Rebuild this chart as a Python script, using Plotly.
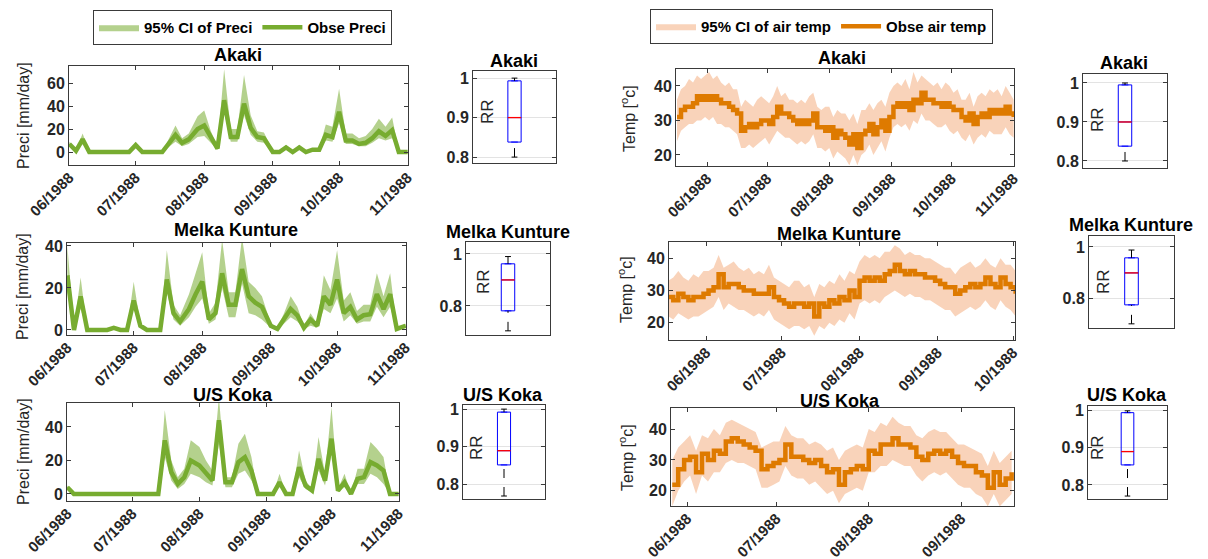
import plotly.graph_objects as go
import pandas as pd

W, H = 1208, 559          # browser window
OFF = 8                   # default page margin around the figure div
FW, FH = W - OFF, H - OFF # figure size so that the figure fills the window
F = "Liberation Sans, Arial, sans-serif"

# ---------------- Precipitation data (mm/day) ----------------
p_akaki_dates = ['1988-06-01','1988-06-04','1988-06-07','1988-06-10','1988-06-28','1988-07-01','1988-07-04',
                 '1988-07-13','1988-07-19','1988-07-22','1988-07-25','1988-07-29','1988-08-01','1988-08-04',
                 '1988-08-07','1988-08-10','1988-08-13','1988-08-16','1988-08-19','1988-08-22','1988-08-25',
                 '1988-08-28','1988-09-01','1988-09-04','1988-09-07','1988-09-10','1988-09-13','1988-09-16',
                 '1988-09-19','1988-09-22','1988-09-25','1988-09-28','1988-10-01','1988-10-04','1988-10-07',
                 '1988-10-10','1988-10-13','1988-10-16','1988-10-19','1988-10-22','1988-10-25','1988-10-28',
                 '1988-11-01']
p_akaki = [7,1,11,0,0,6,0,0,15,8,11,20,23,12,3,45,13,13,42,21,13,12,0,0,4,0,4,0,2,2,15,13,35,10,10,7,8,12,18,14,19,0,0]
p_akaki_lo = [5,0,7,0,0,4,0,0,9,5,7,13,14,8,2,35,9,9,32,15,9,8,0,0,2,0,2,0,1,1,10,9,25,7,7,5,5,8,12,10,12,0,0]
p_akaki_hi = [9,2,16,0,0,8,0,0,23,12,16,31,36,18,5,72,20,20,67,32,18,17,1,0,6,1,6,1,3,3,24,22,55,16,16,12,14,20,29,22,30,1,0]

p_melka_dates = ['1988-06-01','1988-06-04','1988-06-07','1988-06-10','1988-06-19','1988-06-22','1988-06-25',
                 '1988-06-28','1988-07-01','1988-07-04','1988-07-07','1988-07-13','1988-07-16','1988-07-19',
                 '1988-07-22','1988-07-26','1988-07-29','1988-08-01','1988-08-04','1988-08-07','1988-08-10',
                 '1988-08-13','1988-08-16','1988-08-19','1988-08-22','1988-08-25','1988-08-28','1988-09-01',
                 '1988-09-04','1988-09-07','1988-09-10','1988-09-13','1988-09-16','1988-09-19','1988-09-22',
                 '1988-09-25','1988-09-28','1988-10-01','1988-10-04','1988-10-07','1988-10-10','1988-10-13',
                 '1988-10-16','1988-10-19','1988-10-22','1988-10-25','1988-10-28','1988-11-01']
p_melka = [26,0,16,0,0,1,0,0,14,2,0,0,24,8,4,10,17,23,5,8,27,12,12,29,16,13,11,2,0.5,5,10,7,1,5,2,16,12,24,8,11,5,7,7.5,17,10,17,0.5,2]
p_melka_lo = [18,0,10,0,0,0.5,0,0,10,1,0,0,18,5,2,6,11,15,3,5,20,6,6,22,8,7,5,1,0,3,6,4,0.5,2,1,10,8,15,4,7,3,4,4,11,6,11,0,1]
p_melka_hi = [40,1,25,0,0,1.5,0,0,23,3,0,0,38,12,7,17,27,37,8,13,43,18,18,44,23,20,16,3,1,8,16,11,2,8,3,26,19,38,14,18,9,12,12,27,16,27,1,3]

p_koka_dates = ['1988-06-01','1988-06-04','1988-07-13','1988-07-16','1988-07-19','1988-07-22','1988-07-25',
                '1988-07-28','1988-08-01','1988-08-04','1988-08-07','1988-08-10','1988-08-13','1988-08-16',
                '1988-08-19','1988-08-22','1988-08-25','1988-08-28','1988-09-04','1988-09-07','1988-09-10',
                '1988-09-13','1988-09-16','1988-09-19','1988-09-22','1988-09-25','1988-09-28','1988-10-01',
                '1988-10-04','1988-10-07','1988-10-10','1988-10-13','1988-10-16','1988-10-19','1988-10-22',
                '1988-10-25','1988-10-28','1988-11-01']
p_koka = [4,0,0,32,13,6,10,20,17,12,8,44,7,7,19,22,14,0,0,7,0,0,16,5,2,21,8,33,2,7,0,9,10,19,17,14,0,0]
p_koka_lo = [3,0,0,22,8,3,6,12,10,7,5,30,4,4,12,14,8,0,0,4,0,0,10,3,1,14,5,24,1,4,0,6,6,12,10,6,0,0]
p_koka_hi = [5,0,0,50,20,10,15,32,28,20,14,58,10,10,30,36,22,0,0,12,0,0,26,8,3,34,12,52,3,12,0,15,15,31,27,22,0,0]

# ---------------- Air temperature data (deg C), one value every 2 days ----------------
t_akaki_start = '1988-05-17'
t_akaki = [31,33,34,34,35,37,36,37,
           36,37,36,35,35,34,33,32,27,28,29,28,29,30,30,
           29,31,34,32,32,31,30,29,30,29,30,32,28,28,27,
           28,25,27,26,25,23,26,22,26,27,29,26,28,30,27,31,
           34,35,34,35,33,36,35,38,36,36,35,35,34,35,34,
           33,33,31,30,32,29,31,32,31,33,32,33,32,34,32,31]
t_akaki_hi = [36,39,40,42,41,43,42,43,
              44,42,43,41,40,41,39,39,34,36,35,34,36,37,36,
              35,37,40,37,38,36,36,35,36,35,37,38,34,33,34,
              34,31,33,32,32,30,32,29,33,33,35,33,35,36,34,38,
              40,41,40,42,39,44,41,43,42,41,40,41,39,41,40,
              38,39,36,36,38,34,37,38,37,39,38,39,37,40,38,36]
t_akaki_lo = [24,27,28,29,29,30,30,31,
              30,31,29,29,28,28,27,26,22,22,23,22,23,24,25,
              23,25,27,26,25,25,24,23,24,23,24,26,22,22,21,
              22,19,21,20,19,17,20,17,20,21,23,20,22,24,21,25,
              28,29,28,29,27,30,29,32,30,30,29,28,28,29,27,
              26,27,25,24,26,23,25,26,25,27,26,26,26,28,26,25]

t_melka_start = '1988-05-17'
t_melka = [28,27,29,28,27,28,28,29,
           30,31,35,31,32,32,31,30,30,29,29,29,31,28,27,
           26,25,26,26,25,26,22,26,25,27,26,28,27,30,28,
           33,34,33,34,33,35,36,38,36,35,36,35,35,34,34,33,
           32,31,31,29,30,31,32,31,32,34,32,31,34,32,31,
           29]
t_melka_hi = [33,34,36,34,33,35,34,36,
              36,37,41,37,38,39,37,36,37,35,36,35,38,34,33,
              32,31,33,33,31,32,28,32,31,33,32,35,33,36,35,
              39,41,40,41,40,42,42,44,43,41,42,41,41,40,40,39,
              38,37,37,35,37,38,39,37,38,40,38,37,40,38,38,
              36]
t_melka_lo = [22,21,23,22,21,22,22,23,
              24,25,28,24,26,25,24,24,23,22,23,22,24,21,20,
              19,18,19,19,18,19,16,19,18,20,19,21,20,23,21,
              26,27,26,27,26,28,29,30,29,28,29,28,28,27,27,26,
              25,24,24,22,23,24,25,24,25,27,25,24,27,25,24,
              22]

t_koka_start = '1988-05-27'
t_koka = [22,27,30,31,26,32,30,33,32,36,37,36,35,34,33,27,28,29,
          30,35,31,31,30,29,30,28,26,27,22,26,27,28,27,
          33,32,35,35,37,35,35,34,31,30,32,33,32,33,31,29,
          28,28,26,25,21,26,22,24,26]
t_koka_hi = [30,34,36,38,33,38,37,40,38,42,43,42,41,40,39,34,35,36,
             36,41,38,37,37,35,36,35,33,34,30,33,34,35,34,
             40,39,42,41,44,42,41,41,38,37,39,40,39,39,37,35,
             35,34,33,32,28,33,29,31,33]
t_koka_lo = [15,20,23,25,19,25,23,26,26,29,30,29,29,28,27,21,21,22,
             23,28,25,24,24,22,23,21,19,20,16,19,20,21,20,
             26,26,28,28,30,29,28,28,25,23,25,26,25,26,24,22,
             21,21,19,18,15,19,15,17,19]

# ---------------- RR box statistics: [lower whisker, q1, median, q3, upper whisker] ----------------
rr_p_akaki = [0.800, 0.838, 0.900, 0.993, 1.000]
rr_p_melka = [0.704, 0.781, 0.900, 0.962, 0.990]
rr_p_koka  = [0.768, 0.851, 0.889, 0.992, 1.000]
rr_t_akaki = [0.800, 0.838, 0.900, 0.995, 1.000]
rr_t_melka = [0.704, 0.777, 0.900, 0.958, 0.988]
rr_t_koka  = [0.770, 0.854, 0.890, 0.995, 1.000]

stations = ['Akaki', 'Melka Kunture', 'U/S Koka']

# ---------------- Styling ----------------
GREEN = 'rgb(119,172,48)'
GREEN_CI = 'rgba(119,172,48,0.55)'
ORANGE = 'rgb(222,122,0)'
ORANGE_CI = 'rgba(240,150,90,0.42)'
AXC = '#3a3a3a'
TXT = '#262626'

def PX(x):
    return (x - OFF) / FW

def PY(y):
    return 1 - (y - OFF) / FH

fig = go.Figure()
layout = {}
annotations = []

def axname(i):
    return ('x' if i == 1 else f'x{i}'), ('y' if i == 1 else f'y{i}')

def add_axes(i, left, right, top, bottom):
    xa, ya = axname(i)
    layout['xaxis' if i == 1 else f'xaxis{i}'] = dict(domain=[PX(left), PX(right)], anchor=ya)
    layout['yaxis' if i == 1 else f'yaxis{i}'] = dict(domain=[PY(bottom), PY(top)], anchor=xa)
    return xa, ya

def common_axis(extra):
    d = dict(showline=True, linecolor=AXC, linewidth=1, mirror='ticks', ticks='inside', ticklen=4,
             tickcolor=AXC, zeroline=False, showgrid=False, automargin=False,
             tickfont=dict(family=F, size=16, color=TXT, weight='bold'))
    d.update(extra)
    return d

def title(text, x, y, size=18):
    annotations.append(dict(text=text, x=PX(x), y=PY(y), xref='paper', yref='paper', showarrow=False,
                            xanchor='center', yanchor='middle',
                            font=dict(family=F, size=size, color='#000', weight='bold')))

def ylab(text, x, y, size=16):
    annotations.append(dict(text=text, x=PX(x), y=PY(y), xref='paper', yref='paper', showarrow=False,
                            xanchor='center', yanchor='middle', textangle=-90,
                            font=dict(family=F, size=size, color=TXT)))

def series_panel(i, box, x, y, lo, hi, line_col, ci_col, names, legend, show, yrange, ytick, xrange, shape):
    xa, ya = add_axes(i, *box)
    fig.add_trace(go.Scatter(x=x, y=lo, mode='lines', line=dict(width=0, color=ci_col), xaxis=xa, yaxis=ya,
                             showlegend=False, hoverinfo='skip'))
    fig.add_trace(go.Scatter(x=x, y=hi, mode='lines', line=dict(width=0, color=ci_col), fill='tonexty',
                             fillcolor=ci_col, xaxis=xa, yaxis=ya, name=names[0], legend=legend,
                             showlegend=show))
    fig.add_trace(go.Scatter(x=x, y=y, mode='lines', line=dict(width=4.5, color=line_col, shape=shape),
                             xaxis=xa, yaxis=ya, name=names[1], legend=legend, showlegend=show))
    layout['xaxis' if i == 1 else f'xaxis{i}'].update(common_axis(dict(
        type='date', range=xrange, tickformat='%m/%Y', dtick='M1', tick0='1988-06-01', tickangle=-45,
        ticklabelstandoff=-3,
        tickfont=dict(family=F, size=15, color=TXT, weight='bold'))))
    layout['yaxis' if i == 1 else f'yaxis{i}'].update(common_axis(dict(range=yrange, tickvals=ytick)))

def box_panel(i, box, stats, yrange, ytick):
    xa, ya = add_axes(i, *box)
    lw, q1, med, q3, uw = stats
    fig.add_trace(go.Box(x=[0], q1=[q1], median=[med], q3=[q3], lowerfence=[q1], upperfence=[q3],
                         width=0.16, line=dict(color='#0000ff', width=1), fillcolor='rgba(255,255,255,0)',
                         boxpoints=False, xaxis=xa, yaxis=ya, showlegend=False, hoverinfo='skip'))
    fig.add_trace(go.Scatter(x=[0, 0, None, 0, 0], y=[q3, uw, None, lw, q1], mode='lines',
                             line=dict(color='#000', width=1, dash='dash'), xaxis=xa, yaxis=ya,
                             showlegend=False, hoverinfo='skip'))
    fig.add_trace(go.Scatter(x=[-0.035, 0.035, None, -0.035, 0.035], y=[uw, uw, None, lw, lw], mode='lines',
                             line=dict(color='#000', width=1), xaxis=xa, yaxis=ya,
                             showlegend=False, hoverinfo='skip'))
    fig.add_trace(go.Scatter(x=[-0.08, 0.08], y=[med, med], mode='lines',
                             line=dict(color='#ff0000', width=1.3), xaxis=xa, yaxis=ya,
                             showlegend=False, hoverinfo='skip'))
    layout['xaxis' if i == 1 else f'xaxis{i}'].update(common_axis(dict(
        range=[-0.5, 0.5], showticklabels=False, ticks='', mirror=True)))
    layout['yaxis' if i == 1 else f'yaxis{i}'].update(common_axis(dict(
        range=yrange, tickvals=ytick, ticktext=[('1' if v == 1 else f'{v:.1f}') for v in ytick],
        showgrid=True, gridcolor='#e3e3e3', gridwidth=1)))

P_RANGE = ['1988-05-31 20:00', '1988-11-01 04:00']

# ---- precipitation panels ----
series_panel(1, (69, 408, 66, 165), p_akaki_dates, p_akaki, p_akaki_lo, p_akaki_hi, GREEN, GREEN_CI,
             ['95% CI of Preci', 'Obse Preci'], 'legend', True, [-11.3, 74.8], [0, 20, 40, 60], P_RANGE, 'linear')
series_panel(2, (67, 406, 243, 335), p_melka_dates, p_melka, p_melka_lo, p_melka_hi, GREEN, GREEN_CI,
             ['95% CI of Preci', 'Obse Preci'], 'legend', False, [-2.4, 41.4], [0, 20, 40], P_RANGE, 'linear')
series_panel(3, (67, 399, 403, 501), p_koka_dates, p_koka, p_koka_lo, p_koka_hi, GREEN, GREEN_CI,
             ['95% CI of Preci', 'Obse Preci'], 'legend', False, [-4.2, 54.3], [0, 20, 40], P_RANGE, 'linear')

# ---- precipitation RR boxes ----
box_panel(4, (473, 556, 71, 163), rr_p_akaki, [0.785, 1.018], [0.8, 0.9, 1])
box_panel(5, (466, 550, 242, 335), rr_p_melka, [0.688, 1.046], [0.8, 1])
box_panel(6, (463, 545, 405, 499), rr_p_koka, [0.760, 1.011], [0.8, 0.9, 1])

# ---- temperature panels ----
ta_x = pd.date_range(t_akaki_start, periods=len(t_akaki), freq='2D')
tm_x = pd.date_range(t_melka_start, periods=len(t_melka), freq='2D')
tk_x = pd.date_range(t_koka_start, periods=len(t_koka), freq='2D')
series_panel(7, (676, 1014, 69, 166), ta_x, t_akaki, t_akaki_lo, t_akaki_hi, ORANGE, ORANGE_CI,
             ['95% CI of air temp', 'Obse air temp'], 'legend2', True, [16.8, 44.9], [20, 30, 40],
             ['1988-05-16 12:00', '1988-11-01 04:00'], 'hv')
series_panel(8, (669, 1015, 242, 340), tm_x, t_melka, t_melka_lo, t_melka_hi, ORANGE, ORANGE_CI,
             ['95% CI of air temp', 'Obse air temp'], 'legend2', False, [14.7, 45.0], [20, 30, 40],
             ['1988-05-17 07:00', '1988-10-01 18:00'], 'hv')
series_panel(9, (671, 1014, 408, 506), tk_x, t_koka, t_koka_lo, t_koka_hi, ORANGE, ORANGE_CI,
             ['95% CI of air temp', 'Obse air temp'], 'legend2', False, [15.1, 46.8], [20, 30, 40],
             ['1988-05-26 14:00', '1988-09-18 19:00'], 'hv')

# ---- temperature RR boxes ----
box_panel(10, (1083, 1167, 74, 168), rr_t_akaki, [0.782, 1.023], [0.8, 0.9, 1])
box_panel(11, (1089, 1174, 236, 328), rr_t_melka, [0.688, 1.042], [0.8, 1])
box_panel(12, (1088, 1167, 406, 499), rr_t_koka, [0.762, 1.013], [0.8, 0.9, 1])

# ---- titles ----
title(stations[0], 238, 55); title(stations[1], 236, 230); title(stations[2], 233, 395)
title(stations[0], 514, 61); title(stations[1], 508, 232); title(stations[2], 503, 395)
title(stations[0], 842, 58); title(stations[1], 839, 234); title(stations[2], 840, 401)
title(stations[0], 1124, 63); title(stations[1], 1131, 225); title(stations[2], 1127, 395)

# ---- y labels ----
ylab('Preci [mm/day]', 23, 116); ylab('Preci [mm/day]', 22, 287); ylab('Preci [mm/day]', 23, 452)
ylab('Temp [<sup>o</sup>c]', 628, 119); ylab('Temp [<sup>o</sup>c]', 625, 290); ylab('Temp [<sup>o</sup>c]', 626, 458)
ylab('RR', 488, 112, 17); ylab('RR', 484, 282, 17); ylab('RR', 477, 448, 17)
ylab('RR', 1098, 120, 17); ylab('RR', 1104, 282, 17); ylab('RR', 1098, 448, 17)

leg_common = dict(orientation='h', xanchor='left', yanchor='top', bordercolor=AXC, borderwidth=1,
                  bgcolor='white', itemwidth=40, tracegroupgap=0, traceorder='normal',
                  font=dict(family=F, size=15, color='#000', weight='bold'))
layout['legend'] = dict(leg_common, x=PX(93), y=PY(10))
layout['legend2'] = dict(leg_common, x=PX(650), y=PY(9))

fig.update_layout(width=FW, height=FH, margin=dict(l=0, r=0, t=0, b=0), paper_bgcolor='white',
                  plot_bgcolor='white', annotations=annotations, font=dict(family=F), **layout)

fig.write_html("out.html")
